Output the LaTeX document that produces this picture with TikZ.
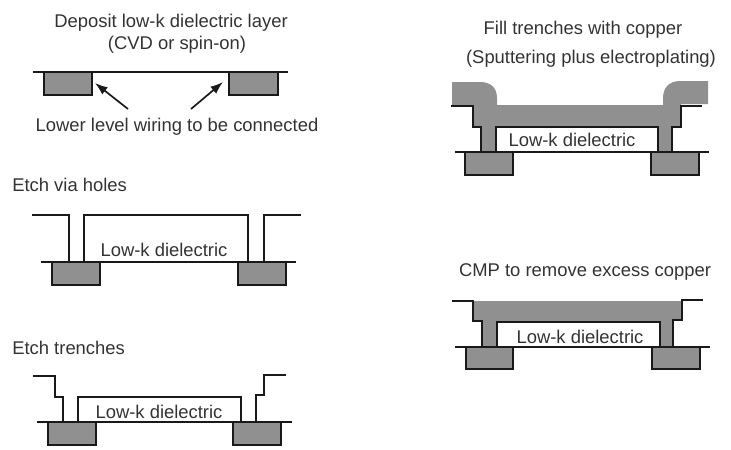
\documentclass[tikz,border=0pt]{standalone}
\usepackage{fontspec}
\usetikzlibrary{arrows.meta}
\setmainfont{Liberation Sans}
\definecolor{copper}{HTML}{909090}
\definecolor{inktext}{HTML}{333333}
\tikzset{
	line/.style={line width=1.4pt,draw=black!90},
	wire/.style={line width=1.4pt,draw=black!90,fill=copper},
	fillcu/.style={fill=copper,draw=none},
	label/.style={text=inktext,font=\fontsize{13.1}{15}\selectfont,inner sep=0pt,text height=11pt,text depth=2pt},
	pointer/.style={-{Latex[length=9pt,width=6.5pt]},line width=1.2pt,draw=black!90}
}
\begin{document}
\begin{tikzpicture}[x=0.025cm,y=-0.025cm]
	\useasboundingbox (0,0) rectangle (731,449);

	% deposit
	\node[label] (deposit) at (171,21) {Deposit low-k dielectric layer};
	\node[label] (cvd) at (177,43) {(CVD or spin-on)};
	\draw[wire] (44,72) rectangle (92,95);
	\draw[wire] (229,72) rectangle (278,95);
	\draw[line] (33,72) -- (288,72);
	\node[label] (lower) at (177,125) {Lower level wiring to be connected};
	\coordinate (wireA) at (95,83);
	\coordinate (wireB) at (223,82);
	\coordinate (lowerA) at (128,109);
	\coordinate (lowerB) at (191,109);
	\draw[pointer] (lowerA) -- (wireA);
	\draw[pointer] (lowerB) -- (wireB);

	% via holes
	\node[label,anchor=west] (via) at (12,185) {Etch via holes};
	\draw[wire] (52,262) rectangle (100,285);
	\draw[wire] (238,262) rectangle (286,285);
	\draw[line] (41,262) -- (296,262);
	\draw[line] (32,215) -- (69,215) -- (69,262);
	\draw[line] (84,262) -- (84,215) -- (248,215) -- (248,262);
	\draw[line] (264,262) -- (264,215) -- (301,215);
	\node[label] (lowkA) at (164,250) {Low-k dielectric};

	% trenches
	\node[label,anchor=west] (trench) at (12,348) {Etch trenches};
	\draw[wire] (48,422) rectangle (96,445);
	\draw[wire] (233,422) rectangle (281,445);
	\draw[line] (37,422) -- (292,422);
	\draw[line] (33,376) -- (55,376) -- (55,397) -- (63,397) -- (63,422);
	\draw[line] (78,422) -- (78,397) -- (241,397) -- (241,422);
	\draw[line] (256,422) -- (256,395) -- (264,395) -- (264,375) -- (286,375);
	\node[label] (lowkB) at (159,412) {Low-k dielectric};

	% fill with copper
	\node[label] (fill) at (583,28) {Fill trenches with copper};
	\node[label] (sputter) at (591,57) {(Sputtering plus electroplating)};
	\fill[fillcu] (452,82) -- (480,82) .. controls (491,82) and (497,88) .. (497,98) -- (497,105) -- (663,105) -- (663,98)
		.. controls (663,88) and (669,81) .. (680,81) -- (708,81) -- (708,104) -- (681,104) -- (681,127) -- (672,127) -- (672,152)
		-- (658,152) -- (658,127) -- (496,127) -- (496,152) -- (481,152) -- (481,127) -- (473,127) -- (473,106) -- (452,106) -- cycle;
	\draw[wire] (465,152) rectangle (513,175);
	\draw[wire] (651,152) rectangle (699,175);
	\draw[line] (455,152) -- (709,152);
	\draw[line] (451,106) -- (473,106) -- (473,127) -- (481,127) -- (481,152);
	\draw[line] (496,152) -- (496,127) -- (658,127) -- (658,152);
	\draw[line] (672,152) -- (672,127) -- (681,127) -- (681,106) -- (702,106);
	\node[label] (lowkC) at (572,140) {Low-k dielectric};

	% cmp
	\node[label] (cmp) at (585,270) {CMP to remove excess copper};
	\fill[fillcu] (473,301) -- (682,301) -- (682,320) -- (673,320) -- (673,347) -- (660,347) -- (660,322) -- (497,322)
		-- (497,347) -- (482,347) -- (482,321) -- (473,321) -- cycle;
	\draw[wire] (466,347) rectangle (513,369);
	\draw[wire] (652,347) rectangle (700,369);
	\draw[line] (455,347) -- (710,347);
	\draw[line] (452,301) -- (473,301) -- (473,321) -- (482,321) -- (482,347);
	\draw[line] (497,347) -- (497,322) -- (660,322) -- (660,347);
	\draw[line] (673,347) -- (673,320) -- (682,320) -- (682,300) -- (703,300);
	\node[label] (lowkD) at (580,337) {Low-k dielectric};
\end{tikzpicture}
\end{document}
